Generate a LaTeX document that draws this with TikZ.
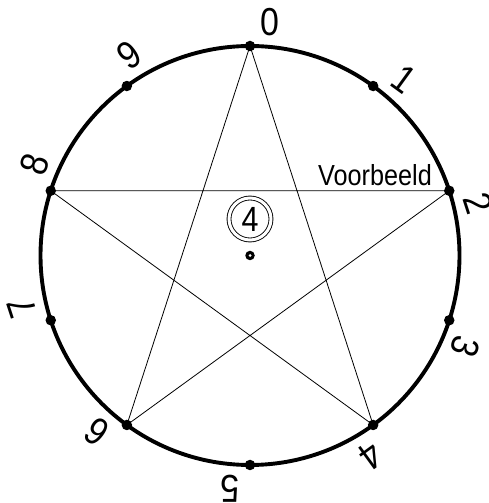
\documentclass[tikz,border=0pt]{standalone}
\usepackage{fontspec}
\setmainfont{Liberation Sans}
\usetikzlibrary{calc}
\begin{document}
\begin{tikzpicture}[x=1pt,y=1pt,
  rim/.style={line width=3.9pt},
  chord/.style={line width=0.8pt},
  pt/.style={circle,fill=black,inner sep=0pt,minimum size=10.5pt},
  digit/.style={inner sep=0pt,font=\fontsize{39}{39}\selectfont},
  ring/.style={line width=0.9pt}]
\useasboundingbox (0,0) rectangle (488,503);
\coordinate (c) at (250,247.5);
\draw[rim] (c) circle (209.5);
\foreach \k in {0,...,9}{
  \node[pt] (p\k) at ($(c)+({90-36*\k}:209.5)$) {};
  \node[digit,rotate={-36*\k}] (l\k) at ($(c)+({90-36*\k-5}:234)$) {\scalebox{0.87}[1]{\k}};
}
\draw[chord] (p0.center) -- (p4.center) -- (p8.center) -- (p2.center) -- (p6.center) -- (p0.center);
\node[anchor=base east,inner sep=0pt,font=\fontsize{29}{29}\selectfont] (vb) at (432,317) {\scalebox{0.87}[1]{Voorbeeld}};
\node[circle,draw,ring,minimum size=42pt,inner sep=0pt,double=white,double distance=3pt] (m) at (250,284) {};
\node[inner sep=0pt,font=\fontsize{35}{35}\selectfont] (four) at (250,284) {\scalebox{0.87}[1]{4}};
\node[circle,fill=black,minimum size=9.5pt,inner sep=0pt] (cd) at (c) {};
\node[circle,fill=white,minimum size=3pt,inner sep=0pt] (cw) at (c) {};
\end{tikzpicture}
\end{document}
